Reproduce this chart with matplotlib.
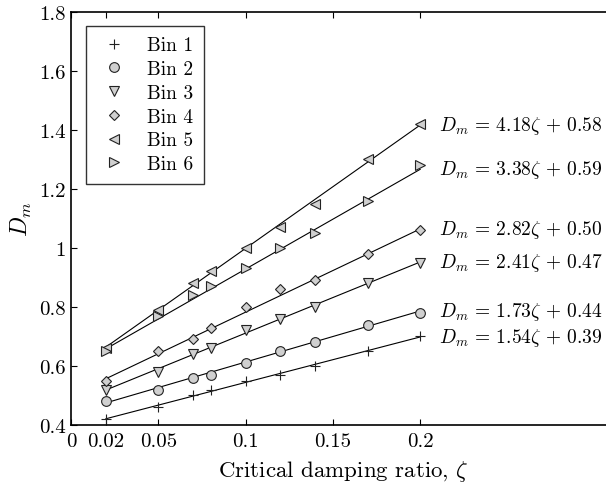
import numpy as np
import matplotlib.pyplot as plt

plt.rcParams['font.family'] = 'serif'
plt.rcParams['font.serif'] = ['cmr10']
plt.rcParams['mathtext.fontset'] = 'cm'
plt.rcParams['axes.formatter.use_mathtext'] = True

# damping ratios
zeta = [0.02, 0.05, 0.07, 0.08, 0.1, 0.12, 0.14, 0.17, 0.2]

bin1 = [0.42, 0.46, 0.50, 0.52, 0.55, 0.57, 0.60, 0.65, 0.70]
bin2 = [0.48, 0.52, 0.56, 0.57, 0.61, 0.65, 0.68, 0.74, 0.78]
bin3 = [0.52, 0.58, 0.64, 0.66, 0.72, 0.76, 0.80, 0.88, 0.95]
bin4 = [0.55, 0.65, 0.69, 0.73, 0.80, 0.86, 0.89, 0.98, 1.06]
bin5 = [0.66, 0.79, 0.88, 0.92, 1.00, 1.07, 1.15, 1.30, 1.42]
bin6 = [0.65, 0.77, 0.84, 0.87, 0.93, 1.00, 1.05, 1.16, 1.28]

# linear fits D_m = a*zeta + b
slopes = [1.54, 1.73, 2.41, 2.82, 4.18, 3.38]
intercepts = [0.39, 0.44, 0.47, 0.50, 0.58, 0.59]

labels = ['Bin 1', 'Bin 2', 'Bin 3', 'Bin 4', 'Bin 5', 'Bin 6']
markers = ['+', 'o', 'v', 'D', '<', '>']
sizes = [7.5, 7, 7, 5.5, 7, 7]
data = [bin1, bin2, bin3, bin4, bin5, bin6]

fig = plt.figure(figsize=(6.06, 4.89), dpi=100)
ax = fig.add_axes([0.117, 0.129, 0.9, 0.845])

for i in range(6):
    x = np.array(zeta)
    ax.plot(x, slopes[i] * x + intercepts[i], color='black', lw=0.8, zorder=2)
    ax.plot(zeta, data[i], linestyle='none', marker=markers[i], ms=sizes[i],
            mfc='#d0d0d0', mec='#222222', color='#222222', mew=0.8,
            label=labels[i], zorder=3)
    yend = slopes[i] * zeta[-1] + intercepts[i]
    ax.text(0.211, yend,
            r'$D_m \,=\, %.2f\zeta \,+\, %.2f$' % (slopes[i], intercepts[i]),
            fontsize=14, va='center', ha='left')

ax.set_xlim(0, 0.3123)
ax.set_ylim(0.4, 1.8)
ax.set_xticks([0, 0.02, 0.05, 0.1, 0.15, 0.2])
ax.set_xticklabels(['0', '0.02', '0.05', '0.1', '0.15', '0.2'])
ax.set_yticks([0.4, 0.6, 0.8, 1.0, 1.2, 1.4, 1.6, 1.8])
ax.set_yticklabels(['0.4', '0.6', '0.8', '1', '1.2', '1.4', '1.6', '1.8'])
ax.tick_params(direction='in', top=True, right=False, length=4, labelsize=15)
ax.tick_params(axis='x', pad=5)
for s in ax.spines.values():
    s.set_linewidth(1.2)

ax.set_xlabel(r'Critical damping ratio, $\zeta$', fontsize=16.5, labelpad=6)
ax.set_ylabel(r'$D_m$', fontsize=17)

leg = ax.legend(loc='upper left', bbox_to_anchor=(0.0275, 0.966), frameon=True,
                fancybox=False, edgecolor='black', fontsize=14,
                handlelength=1.8, handletextpad=0.8, borderpad=0.55,
                labelspacing=0.3, borderaxespad=0)
leg.get_frame().set_linewidth(1.0)

fig.savefig('out.png', dpi=100)
